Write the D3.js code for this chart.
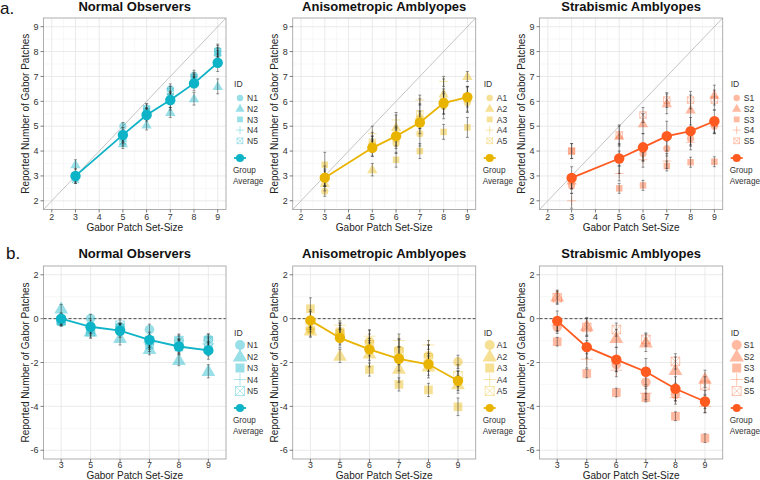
<!DOCTYPE html>
<html>
<head>
<meta charset="utf-8">
<script src="https://cdn.jsdelivr.net/npm/d3@7"></script>
<style>
body { margin: 0; background: #fff; }
svg { font-family: "Liberation Sans", Arial, sans-serif; }
</style>
</head>
<body>
<div id="chart"></div>
<script>
const width = 760;
const height = 480;

// set sizes shown on the x axis
const setSizes = [3, 5, 6, 7, 8, 9];

const normalIds = ["N1", "N2", "N3", "N4", "N5"];
const anisoIds = ["A1", "A2", "A3", "A4", "A5"];
const strabIds = ["S1", "S2", "S3", "S4", "S5"];

// ---- a. reported number ----
const normalTopAvg = [3.0, 4.65, 5.45, 6.05, 6.72, 7.55];
const normalTopAvgErr = [0.3, 0.3, 0.25, 0.3, 0.3, 0.35];
const normalTopInd = [
    [2.9, 5.0, 5.7, 6.5, 7.05, 8.05],
    [3.45, 4.3, 5.05, 5.55, 6.1, 6.6],
    [2.95, 4.5, 5.6, 6.2, 6.9, 7.9],
    [3.0, 4.6, 5.5, 5.9, 6.75, 7.85],
    [2.85, 4.4, 5.7, 6.4, 6.95, 8.0]
];
const normalTopErr = [
    [0.15, 0.15, 0.2, 0.2, 0.2, 0.25],
    [0.2, 0.2, 0.2, 0.2, 0.25, 0.3],
    [0.15, 0.2, 0.15, 0.2, 0.2, 0.25],
    [0.15, 0.15, 0.2, 0.25, 0.2, 0.2],
    [0.15, 0.2, 0.2, 0.2, 0.2, 0.25]
];

const anisoTopAvg = [2.93, 4.13, 4.6, 5.15, 5.93, 6.17];
const anisoTopAvgErr = [0.35, 0.35, 0.4, 0.45, 0.45, 0.4];
const anisoTopInd = [
    [2.38, 4.3, 4.3, 4.7, 5.8, 5.95],
    [2.7, 3.25, 4.95, 5.4, 6.3, 7.0],
    [3.45, 4.2, 3.65, 4.0, 4.77, 4.95],
    [3.0, 4.7, 5.25, 6.05, 6.8, 6.3],
    [2.9, 4.35, 4.5, 5.5, 6.0, 6.1]
];
const anisoTopErr = [
    [0.2, 0.3, 0.4, 0.5, 0.5, 0.4],
    [0.3, 0.25, 0.5, 0.5, 0.6, 0.2],
    [0.5, 0.4, 0.3, 0.3, 0.3, 0.4],
    [0.4, 0.3, 0.3, 0.2, 0.2, 0.3],
    [0.3, 0.4, 0.4, 0.6, 0.5, 0.5]
];

const strabTopAvg = [2.92, 3.7, 4.15, 4.6, 4.8, 5.2];
const strabTopAvgErr = [0.45, 0.6, 0.55, 0.6, 0.55, 0.45];
const strabTopInd = [
    [2.6, 3.7, 3.9, 4.1, 4.5, 5.0],
    [2.8, 4.6, 5.1, 5.9, 5.65, 6.25],
    [4.0, 2.5, 2.62, 3.4, 3.55, 3.57],
    [2.0, 3.1, 3.65, 3.6, 4.35, 5.0],
    [4.0, 4.65, 5.45, 6.05, 6.05, 6.05]
];
const strabTopErr = [
    [0.3, 0.3, 0.3, 0.3, 0.3, 0.3],
    [0.3, 0.4, 0.4, 0.4, 0.6, 0.4],
    [0.3, 0.2, 0.2, 0.2, 0.2, 0.2],
    [0.3, 0.3, 0.3, 0.3, 0.3, 0.3],
    [0.3, 0.4, 0.3, 0.3, 0.35, 0.4]
];

// ---- b. error (reported minus set-size) ----
const normalBotAvg = [0.0, -0.37, -0.55, -0.97, -1.27, -1.45];
const normalBotAvgErr = [0.25, 0.3, 0.3, 0.35, 0.35, 0.4];
const normalBotInd = [
    [-0.15, 0.0, -0.4, -0.5, -1.0, -0.95],
    [0.45, -0.6, -0.9, -1.4, -1.9, -2.4],
    [-0.1, -0.5, -0.4, -1.2, -1.3, -1.4],
    [0.0, -0.4, -0.5, -1.1, -1.25, -1.15],
    [-0.1, -0.6, -0.3, -1.0, -1.0, -1.0]
];
const normalBotErr = [
    [0.2, 0.2, 0.2, 0.25, 0.25, 0.25],
    [0.2, 0.3, 0.3, 0.25, 0.25, 0.3],
    [0.2, 0.25, 0.2, 0.3, 0.3, 0.3],
    [0.2, 0.2, 0.25, 0.3, 0.3, 0.3],
    [0.2, 0.25, 0.25, 0.25, 0.3, 0.3]
];

const anisoBotAvg = [-0.08, -0.88, -1.4, -1.83, -2.08, -2.83];
const anisoBotAvgErr = [0.4, 0.45, 0.5, 0.55, 0.5, 0.45];
const anisoBotInd = [
    [-0.5, -0.7, -1.05, -1.45, -1.7, -1.97],
    [-0.55, -1.7, -1.6, -2.3, -2.2, -3.0],
    [0.45, -0.6, -2.32, -3.0, -3.25, -4.02],
    [0.0, -0.3, -0.8, -1.0, -1.2, -2.7],
    [-0.3, -0.7, -1.2, -1.5, -1.8, -2.6]
];
const anisoBotErr = [
    [0.3, 0.4, 0.5, 0.5, 0.5, 0.3],
    [0.3, 0.3, 0.6, 0.6, 0.5, 0.4],
    [0.5, 0.4, 0.3, 0.3, 0.3, 0.4],
    [0.4, 0.2, 0.3, 0.3, 0.2, 0.3],
    [0.3, 0.5, 0.5, 0.6, 0.6, 0.5]
];

const strabBotAvg = [-0.1, -1.3, -1.87, -2.42, -3.2, -3.78];
const strabBotAvgErr = [0.45, 0.5, 0.55, 0.6, 0.55, 0.5];
const strabBotInd = [
    [-0.38, -1.3, -2.1, -2.9, -3.45, -3.8],
    [1.0, -0.35, -0.9, -1.1, -2.35, -2.75],
    [-1.05, -2.5, -3.37, -3.6, -4.45, -5.45],
    [-0.3, -1.85, -2.35, -3.4, -3.6, -4.0],
    [0.95, -0.4, -0.5, -0.95, -1.95, -3.05]
];
const strabBotErr = [
    [0.3, 0.3, 0.3, 0.3, 0.3, 0.3],
    [0.3, 0.4, 0.4, 0.4, 0.6, 0.4],
    [0.2, 0.2, 0.2, 0.2, 0.2, 0.2],
    [0.3, 0.4, 0.3, 0.3, 0.3, 0.3],
    [0.3, 0.4, 0.3, 0.3, 0.35, 0.4]
];

const shapes = ["circle", "triangle", "square", "plus", "boxx"];

const svg = d3.select("#chart")
    .append("svg")
    .attr("width", width)
    .attr("height", height);

const columns = [
    {x0: 43.5, x1: 226, title: "Normal Observers", ids: normalIds, color: "#0db3c6",
     top: {avg: normalTopAvg, avgErr: normalTopAvgErr, ind: normalTopInd, err: normalTopErr},
     bot: {avg: normalBotAvg, avgErr: normalBotAvgErr, ind: normalBotInd, err: normalBotErr}},
    {x0: 292.7, x1: 475.7, title: "Anisometropic Amblyopes", ids: anisoIds, color: "#e9b400",
     top: {avg: anisoTopAvg, avgErr: anisoTopAvgErr, ind: anisoTopInd, err: anisoTopErr},
     bot: {avg: anisoBotAvg, avgErr: anisoBotAvgErr, ind: anisoBotInd, err: anisoBotErr}},
    {x0: 539.5, x1: 722.7, title: "Strabismic Amblyopes", ids: strabIds, color: "#ff5a1f",
     top: {avg: strabTopAvg, avgErr: strabTopAvgErr, ind: strabTopInd, err: strabTopErr},
     bot: {avg: strabBotAvg, avgErr: strabBotAvgErr, ind: strabBotInd, err: strabBotErr}}
];

const rows = {
    top: {y0: 18, y1: 209.5, titleY: 11, tickY: 220.3, axisTitleY: 231, size: 3.6, legend: {id: 84, first: 98, step: 10.7, grp: 158, sym: 3.2}},
    bot: {y0: 266, y1: 459, titleY: 257.5, tickY: 468.3, axisTitleY: 479, size: 4.8, legend: {id: 333, first: 345, step: 11.5, grp: 408, sym: 5}}
};

function drawShape(g, type, cx, cy, r, fill, opacity) {
    if (type === "circle") {
        g.append("circle").attr("cx", cx).attr("cy", cy).attr("r", r)
            .attr("fill", fill).attr("fill-opacity", opacity);
    } else if (type === "triangle") {
        g.append("path").attr("transform", `translate(${cx},${cy + r * 0.15})`)
            .attr("d", d3.symbol().type(d3.symbolTriangle).size(r * r * 3.6))
            .attr("fill", fill).attr("fill-opacity", opacity);
    } else if (type === "square") {
        g.append("rect").attr("x", cx - r * 0.9).attr("y", cy - r * 0.9)
            .attr("width", r * 1.8).attr("height", r * 1.8)
            .attr("fill", fill).attr("fill-opacity", opacity);
    } else if (type === "plus") {
        const a = r * 1.25;
        g.append("path").attr("d", `M${cx - a},${cy}H${cx + a}M${cx},${cy - a}V${cy + a}`)
            .attr("stroke", fill).attr("stroke-opacity", opacity).attr("stroke-width", 0.8).attr("fill", "none");
    } else {
        const a = r * 0.9;
        g.append("path")
            .attr("d", `M${cx - a},${cy - a}H${cx + a}V${cy + a}H${cx - a}ZM${cx - a},${cy - a}L${cx + a},${cy + a}M${cx + a},${cy - a}L${cx - a},${cy + a}`)
            .attr("stroke", fill).attr("stroke-opacity", opacity).attr("stroke-width", 0.8).attr("fill", "none");
    }
}

function errorBar(g, x, yLo, yHi) {
    g.append("path")
        .attr("d", `M${x},${yLo}V${yHi}M${x - 1.5},${yLo}H${x + 1.5}M${x - 1.5},${yHi}H${x + 1.5}`)
        .attr("stroke", "#222").attr("stroke-width", 0.6).attr("stroke-opacity", 0.75).attr("fill", "none");
}

function drawPanel(col, rowKey) {
    const row = rows[rowKey];
    const d = col[rowKey];
    const g = svg.append("g");
    let x, y, xTicks, xMinor, yTicks, yMinor;
    if (rowKey === "top") {
        x = d3.scaleLinear().domain([1.65, 9.35]).range([col.x0, col.x1]);
        y = d3.scaleLinear().domain([1.65, 9.35]).range([row.y1, row.y0]);
        xTicks = d3.range(2, 10);
        xMinor = d3.range(2.5, 9, 1);
        yTicks = d3.range(2, 10);
        yMinor = d3.range(2.5, 9, 1);
    } else {
        x = d3.scalePoint().domain(setSizes).range([col.x0, col.x1]).padding(0.6);
        y = d3.scaleLinear().domain([-6.4, 2.4]).range([row.y1, row.y0]);
        xTicks = setSizes;
        xMinor = [];
        yTicks = [2, 0, -2, -4, -6];
        yMinor = [1, -1, -3, -5];
    }

    // grid
    g.selectAll(".ymin").data(yMinor).enter().append("line")
        .attr("x1", col.x0).attr("x2", col.x1).attr("y1", v => y(v)).attr("y2", v => y(v))
        .attr("stroke", "#f2f2f2").attr("stroke-width", 0.6);
    g.selectAll(".xmin").data(xMinor).enter().append("line")
        .attr("y1", row.y0).attr("y2", row.y1).attr("x1", v => x(v)).attr("x2", v => x(v))
        .attr("stroke", "#f2f2f2").attr("stroke-width", 0.6);
    g.selectAll(".ymaj").data(yTicks).enter().append("line")
        .attr("x1", col.x0).attr("x2", col.x1).attr("y1", v => y(v)).attr("y2", v => y(v))
        .attr("stroke", "#e4e4e4").attr("stroke-width", 0.8);
    g.selectAll(".xmaj").data(xTicks).enter().append("line")
        .attr("y1", row.y0).attr("y2", row.y1).attr("x1", v => x(v)).attr("x2", v => x(v))
        .attr("stroke", "#e4e4e4").attr("stroke-width", 0.8);

    // reference line
    if (rowKey === "top") {
        g.append("line")
            .attr("x1", x(1.65)).attr("y1", y(1.65)).attr("x2", x(9.35)).attr("y2", y(9.35))
            .attr("stroke", "#b5b5b5").attr("stroke-width", 0.8);
    } else {
        g.append("line")
            .attr("x1", col.x0).attr("x2", col.x1).attr("y1", y(0)).attr("y2", y(0))
            .attr("stroke", "#222").attr("stroke-width", 0.8).attr("stroke-dasharray", "3,2");
    }

    // individuals
    d.ind.forEach((vals, i) => {
        vals.forEach((v, j) => {
            drawShape(g, shapes[i], x(setSizes[j]), y(v), row.size, col.color, 0.42);
        });
    });
    d.ind.forEach((vals, i) => {
        vals.forEach((v, j) => {
            errorBar(g, x(setSizes[j]), y(v - d.err[i][j]), y(v + d.err[i][j]));
        });
    });

    // group average
    const line = d3.line().x((v, j) => x(setSizes[j])).y(v => y(v));
    g.append("path").datum(d.avg).attr("d", line)
        .attr("fill", "none").attr("stroke", col.color).attr("stroke-width", 1.8);
    d.avg.forEach((v, j) => {
        errorBar(g, x(setSizes[j]), y(v - d.avgErr[j]), y(v + d.avgErr[j]));
    });
    g.selectAll(".avg").data(d.avg).enter().append("circle")
        .attr("cx", (v, j) => x(setSizes[j])).attr("cy", v => y(v)).attr("r", 5.2)
        .attr("fill", col.color);

    // border
    g.append("rect").attr("x", col.x0).attr("y", row.y0)
        .attr("width", col.x1 - col.x0).attr("height", row.y1 - row.y0)
        .attr("fill", "none").attr("stroke", "#a6a6a6").attr("stroke-width", 0.9);

    // axes ticks & labels
    g.selectAll(".yt").data(yTicks).enter().append("line")
        .attr("x1", col.x0 - 3).attr("x2", col.x0).attr("y1", v => y(v)).attr("y2", v => y(v))
        .attr("stroke", "#444").attr("stroke-width", 0.7);
    g.selectAll(".yl").data(yTicks).enter().append("text")
        .attr("x", col.x0 - 5).attr("y", v => y(v) + 3.2)
        .attr("text-anchor", "end").attr("font-size", 9).attr("fill", "#333")
        .text(v => v < 0 ? "-" + Math.abs(v) : v);
    g.selectAll(".xt").data(xTicks).enter().append("line")
        .attr("y1", row.y1).attr("y2", row.y1 + 3).attr("x1", v => x(v)).attr("x2", v => x(v))
        .attr("stroke", "#444").attr("stroke-width", 0.7);
    g.selectAll(".xl").data(xTicks).enter().append("text")
        .attr("x", v => x(v)).attr("y", row.tickY)
        .attr("text-anchor", "middle").attr("font-size", 8.8).attr("fill", "#333")
        .text(v => v);

    g.append("text").attr("x", (col.x0 + col.x1) / 2).attr("y", row.axisTitleY)
        .attr("text-anchor", "middle").attr("font-size", 10).attr("fill", "#222")
        .text("Gabor Patch Set-Size");
    g.append("text")
        .attr("transform", `translate(${col.x0 - 15},${(row.y0 + row.y1) / 2}) rotate(-90)`)
        .attr("text-anchor", "middle").attr("font-size", 10).attr("fill", "#222")
        .text("Reported Number of Gabor Patches");
    g.append("text").attr("x", (col.x0 + col.x1) / 2).attr("y", row.titleY)
        .attr("text-anchor", "middle").attr("font-size", 13).attr("font-weight", "bold").attr("fill", "#111")
        .text(col.title);

    // legend
    const lg = row.legend;
    const lx = col.x1 + 8;
    g.append("text").attr("x", lx).attr("y", lg.id + 3.3).attr("font-size", 8.6).attr("fill", "#333").text("ID");
    col.ids.forEach((id, i) => {
        const cy = lg.first + i * lg.step;
        drawShape(g, shapes[i], lx + 6, cy, lg.sym, col.color, 0.42);
        g.append("text").attr("x", lx + 13).attr("y", cy + 3.2).attr("font-size", 8.6).attr("fill", "#333").text(id);
    });
    g.append("line").attr("x1", lx).attr("x2", lx + 12).attr("y1", lg.grp).attr("y2", lg.grp)
        .attr("stroke", col.color).attr("stroke-width", 1.8);
    g.append("circle").attr("cx", lx + 6).attr("cy", lg.grp).attr("r", 4).attr("fill", col.color);
    g.append("text").attr("x", lx - 1).attr("y", lg.grp + 15).attr("font-size", 8.2).attr("fill", "#333").text("Group");
    g.append("text").attr("x", lx - 1).attr("y", lg.grp + 25.5).attr("font-size", 8.2).attr("fill", "#333").text("Average");
}

columns.forEach(col => {
    drawPanel(col, "top");
    drawPanel(col, "bot");
});

svg.append("text").attr("x", 0).attr("y", 14).attr("font-size", 17).attr("fill", "#111").text("a.");
svg.append("text").attr("x", 6).attr("y", 259).attr("font-size", 17).attr("fill", "#111").text("b.");
</script>
</body>
</html>
